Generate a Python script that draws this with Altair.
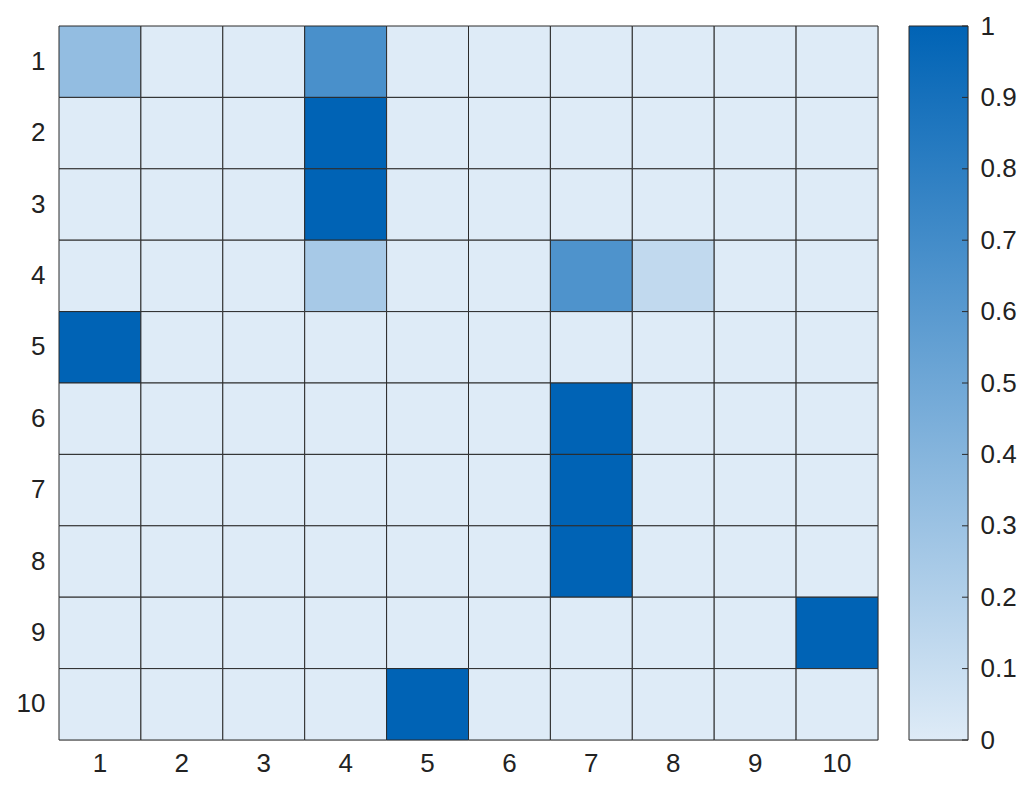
import altair as alt
import pandas as pd

rows = list(range(1, 11))
cols = list(range(1, 11))
# nonzero entries (row, col, value); all other cells are 0
nz_rows = [1, 1, 2, 3, 4, 4, 4, 5, 6, 7, 8, 9, 10]
nz_cols = [1, 4, 4, 4, 4, 7, 8, 1, 7, 7, 7, 10, 5]
nz_vals = [0.34, 0.67, 1.0, 1.0, 0.25, 0.65, 0.13, 1.0, 1.0, 1.0, 1.0, 1.0, 1.0]
cbar_ticks = [0, 0.1, 0.2, 0.3, 0.4, 0.5, 0.6, 0.7, 0.8, 0.9, 1]
c_low, c_high = "#deebf7", "#0063b5"

lookup = {(r, c): v for r, c, v in zip(nz_rows, nz_cols, nz_vals)}
df = pd.DataFrame(
    [{"row": r, "col": c, "value": lookup.get((r, c), 0.0)} for r in rows for c in cols]
)
tick_df = pd.DataFrame({"v": cbar_ticks})

FONT = "Liberation Sans"
FS = 26
W, H = 819, 714
CBW = 59

heat = (
    alt.Chart(df)
    .mark_rect(stroke="#2b2b2b", strokeWidth=1)
    .encode(
        x=alt.X("col:O", sort=cols, title=None,
                axis=alt.Axis(labelAngle=0, ticks=False, domain=False, labelPadding=10,
                              labelFontSize=FS, labelFont=FONT, labelColor="#222")),
        y=alt.Y("row:O", sort=rows, title=None,
                axis=alt.Axis(ticks=False, domain=False, labelPadding=14,
                              labelFontSize=FS, labelFont=FONT, labelColor="#222")),
        color=alt.Color("value:Q",
                        scale=alt.Scale(domain=[0, 1], range=[c_low, c_high], interpolate="rgb"),
                        legend=None),
    )
    .properties(width=W, height=H)
)

grad = alt.Gradient(
    gradient="linear",
    stops=[alt.GradientStop(color=c_high, offset=0), alt.GradientStop(color=c_low, offset=1)],
    x1=0, x2=0, y1=0, y2=1,
)

cbar_rect = (
    alt.Chart(pd.DataFrame({"v": [0]}))
    .mark_rect(fill=grad, stroke="#2b2b2b", strokeWidth=1)
    .encode(x=alt.value(0), x2=alt.value(CBW), y=alt.value(0), y2=alt.value(H))
)
cbar_ticks_layer = (
    alt.Chart(tick_df)
    .mark_rule(color="#2b2b2b", strokeWidth=1)
    .encode(
        y=alt.Y("v:Q", scale=alt.Scale(domain=[0, 1], nice=False), title=None,
                axis=alt.Axis(orient="right", values=cbar_ticks, format=".1~f", ticks=False,
                              domain=False, grid=False, labelPadding=12, labelFlush=False,
                              labelOverlap=False, labelBaseline="middle",
                              labelFontSize=FS, labelFont=FONT, labelColor="#222")),
        x=alt.value(CBW - 6), x2=alt.value(CBW),
    )
)
cbar = alt.layer(cbar_rect, cbar_ticks_layer).properties(width=CBW, height=H)

chart = (
    alt.hconcat(heat, cbar, spacing=29)
    .properties(padding={"left": 7, "top": 4, "right": 0, "bottom": 0})
    .configure_view(stroke=None)
    .configure(background="white")
)

chart.save("out.html", embed_options={"renderer": "svg", "actions": False})
